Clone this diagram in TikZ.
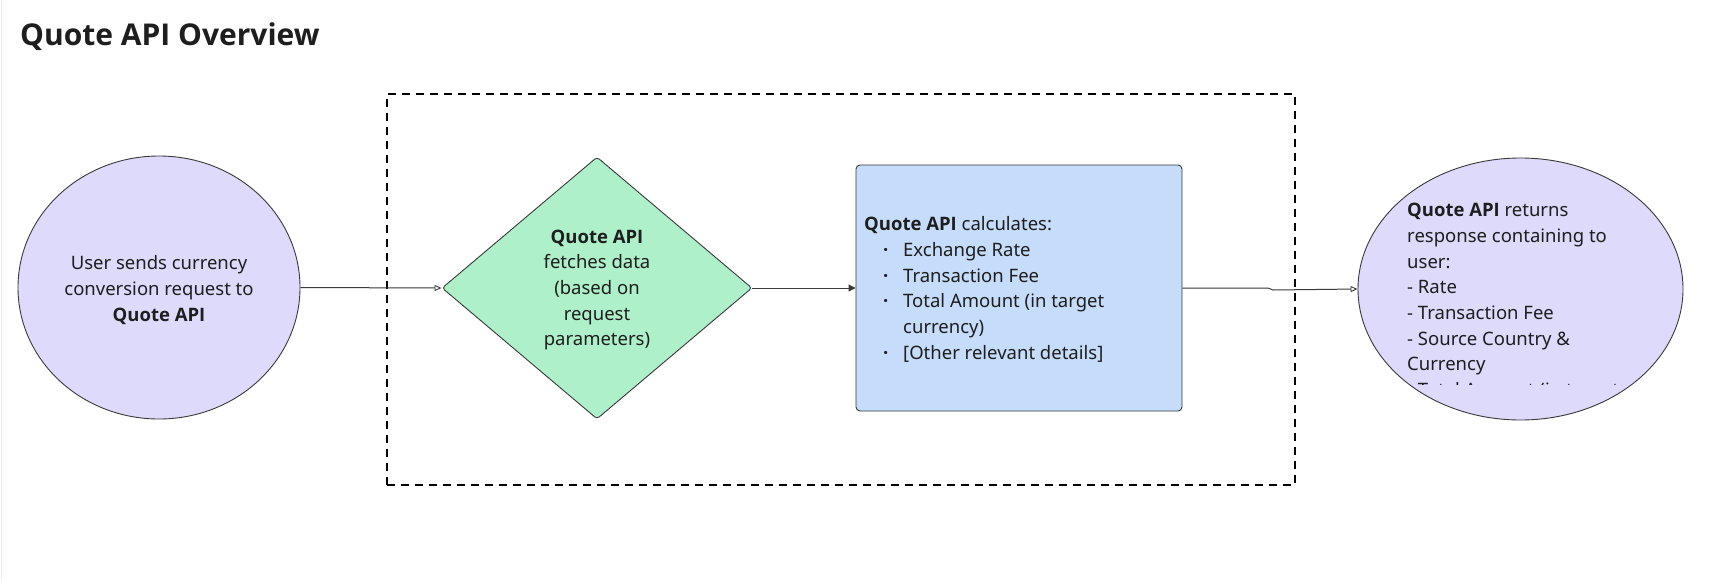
\documentclass[tikz,border=0pt]{standalone}
\usepackage{fontspec}
\setmainfont{Noto Sans}[BoldFont={Open Sans Bold}]
\usetikzlibrary{shapes.geometric,arrows.meta}
\definecolor{lav}{HTML}{DDDAFC}
\definecolor{mint}{HTML}{AEF0C9}
\definecolor{sky}{HTML}{C6DCFB}
\definecolor{edge}{HTML}{3A3A3A}
\definecolor{ink}{HTML}{1E1E1E}
\tikzset{
  body/.style={font=\fontsize{18.5}{25.7}\selectfont, text=ink, inner sep=0pt},
  blob/.style={ellipse, draw=edge, line width=0.9pt, fill=lav, inner sep=0pt},
  gem/.style={diamond, draw=edge, line width=0.9pt, fill=mint, inner sep=0pt, rounded corners=3pt},
  card/.style={rectangle, draw=edge, line width=0.9pt, fill=sky, rounded corners=4pt, inner sep=0pt},
  link/.style={draw=edge, line width=1pt},
  opentip/.style={-{Triangle[open, length=7pt, width=6pt, line width=0.9pt]}},
  filltip/.style={-{Triangle[length=7pt, width=7pt]}},
  group/.style={draw=black, line width=1.6pt, dash pattern=on 8pt off 6pt},
}
\newcommand{\bul}[1]{\hspace*{19pt}\makebox[20pt][l]{\textbf{·}}#1}
\begin{document}
\begin{tikzpicture}[x=1pt,y=-1pt]
\useasboundingbox (0,0) rectangle (1726,579);
\fill[white] (0,0) rectangle (1726,579);
\draw[gray!15, line width=1pt] (1,0) -- (1,579);

\node[anchor=base west, inner sep=0pt, text=ink, font=\fontsize{30}{36}\selectfont\bfseries] (title) at (20,45) {Quote API Overview};

\node[group, minimum width=908, minimum height=391, inner sep=0pt] (grp) at (841,289.5) {};

\node[blob, minimum width=282, minimum height=263] (user) at (159,287.5) {};
\node[body, align=center] (usertxt) at (159,290) {User sends currency\\conversion request to\\\textbf{Quote API}};

\node[gem, minimum width=310, minimum height=262] (fetch) at (597,288) {};
\node[body, align=center] (fetchtxt) at (597,290) {\textbf{Quote API}\\fetches data\\(based on\\request\\parameters)};

\node[card, minimum width=326, minimum height=246] (calc) at (1019,288) {};
\node[body, align=left, anchor=west] (calctxt) at (864,289.5) {\textbf{Quote API} calculates:\\
\bul{Exchange Rate}\\
\bul{Transaction Fee}\\
\bul{Total Amount (in target}\\
\hspace*{39pt}currency)\\
\bul{[Other relevant details]}};

\node[blob, minimum width=325, minimum height=262] (resp) at (1520.5,289) {};
\begin{scope}
\clip (1300,150) rectangle (1726,384);
\node[body, align=left, anchor=north west] (resptxt) at (1407,203) {\textbf{Quote API} returns\\response containing to\\user:\\- Rate\\- Transaction Fee\\- Source Country \&\\Currency\\- Total Amount (in target};
\end{scope}

\coordinate (j1) at (1268,288);
\coordinate (j2) at (1273,290);
\draw[link, opentip] (user.east) -- (fetch.west);
\draw[link, filltip] (fetch.east) -- (calc.west);
\draw[link, opentip] (calc.east) -- (j1) -- (j2) -- (resp.west);
\end{tikzpicture}
\end{document}
